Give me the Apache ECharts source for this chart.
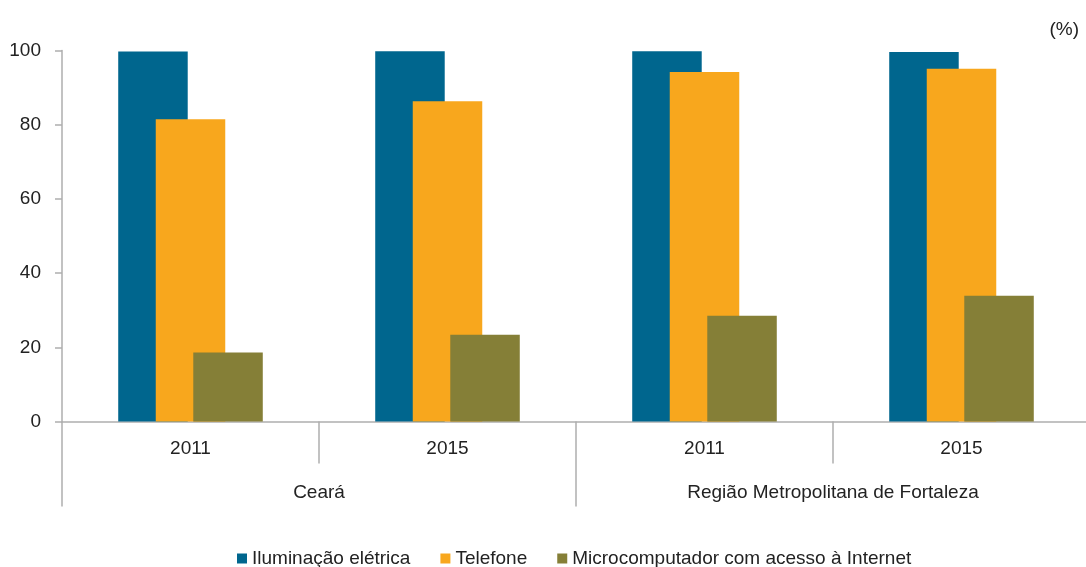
<!DOCTYPE html>
<html>
<head>
<meta charset="utf-8">
<script src="https://cdn.jsdelivr.net/npm/echarts@6/dist/echarts.min.js"></script>
<style>
  html, body { margin: 0; padding: 0; background: #fff; }
  #chart { width: 1086px; height: 567px; }
</style>
</head>
<body>
<div id="chart"></div>
<script>
// domicílios com acesso a serviços (%)
var years = ["2011", "2015", "2011", "2015"];
var regions = ["Ceará", "Região Metropolitana de Fortaleza"];
var iluminacao = [99.7, 99.8, 99.8, 99.6];
var telefone = [81.5, 86.3, 94.2, 95.1];
var micro = [18.6, 23.4, 28.5, 33.9];
var yTicks = [0, 20, 40, 60, 80, 100];

var font = '"Liberation Sans", Arial, sans-serif';
var grey = "#aeaeae";

var chart = echarts.init(document.getElementById("chart"));
chart.setOption({
  animation: false,
  color: ["#00668e", "#f8a71d", "#857f37"],
  textStyle: { fontFamily: font },
  title: {
    text: "(%)",
    right: 2,
    top: 15,
    textStyle: { fontFamily: font, fontSize: 19, fontWeight: "normal", color: "#222" }
  },
  legend: {
    top: 544,
    left: 232,
    itemWidth: 10,
    itemHeight: 10,
    itemGap: 30,
    icon: "rect",
    textStyle: { fontFamily: font, fontSize: 19, color: "#222" },
    data: ["Iluminação elétrica", "Telefone", "Microcomputador com acesso à Internet"]
  },
  // grade passa um pouco da borda direita, como no original
  grid: { left: 62, top: 50.5, width: 1028, height: 371, outerBoundsMode: "none" },
  xAxis: [
    {
      type: "category",
      data: years,
      axisLine: { lineStyle: { color: grey, width: 1.5 } },
      axisTick: { show: true, length: 42, lineStyle: { color: grey, width: 1.5 } },
      axisLabel: { margin: 18, fontSize: 19, color: "#222", fontFamily: font }
    },
    {
      type: "category",
      position: "bottom",
      data: regions,
      axisLine: { show: false },
      axisTick: { show: true, length: 85, lineStyle: { color: grey, width: 1.5 } },
      axisLabel: { margin: 62, fontSize: 19, color: "#222", fontFamily: font }
    }
  ],
  yAxis: {
    type: "value",
    min: yTicks[0],
    max: yTicks[yTicks.length - 1],
    interval: 20,
    splitLine: { show: false },
    axisLine: { show: true, lineStyle: { color: grey, width: 1.5 } },
    axisTick: { show: true, length: 7, lineStyle: { color: grey, width: 1.5 } },
    axisLabel: { margin: 21, fontSize: 19, color: "#222", fontFamily: font }
  },
  series: [
    { name: "Iluminação elétrica", type: "bar", data: iluminacao, barWidth: 69.5, barGap: "-46%" },
    { name: "Telefone", type: "bar", data: telefone, barWidth: 69.5, barGap: "-46%" },
    { name: "Microcomputador com acesso à Internet", type: "bar", data: micro, barWidth: 69.5, barGap: "-46%" }
  ]
});
</script>
</body>
</html>
